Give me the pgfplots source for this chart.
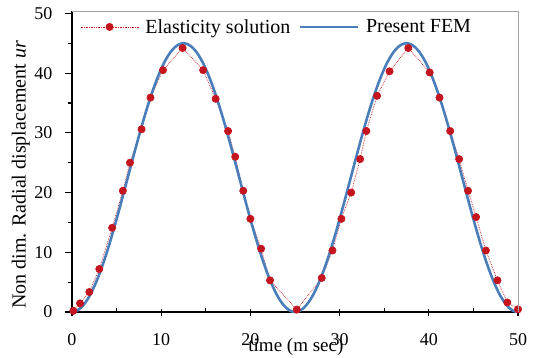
\documentclass[border=0pt]{standalone}
\usepackage{pgfplots}
\pgfplotsset{compat=1.18}
\usepackage{fontspec}
\setmainfont{Liberation Serif}
\definecolor{femblue}{RGB}{74,126,187}
\definecolor{elred}{RGB}{196,20,30}
\begin{document}
\begin{tikzpicture}
\begin{axis}[
  name=ax,
  scale only axis,
  width=446pt, height=301pt,
  xmin=0, xmax=50, ymin=0, ymax=50.4,
  xtick={0,10,...,50}, ytick={0,10,...,50},
  minor x tick num=1, minor y tick num=1,
  axis line style={line width=1.4pt, black},
  axis x line*=bottom, axis y line*=left,
  xtick align=center, ytick align=outside,
  major tick length=7pt, minor tick length=4pt,
  major y tick style={line width=1.2pt, black},
  minor y tick style={line width=1.2pt, black},
  major x tick style={line width=1.2pt, black},
  minor x tick style={line width=1.2pt, black, yshift=2pt},
  tick style={black},
  /pgf/number format/assume math mode=true,
  ticklabel style={font=\fontsize{18}{20}\selectfont},
  yticklabel style={xshift=-9pt},
  xticklabel style={yshift=-14pt},
  xlabel={time (m sec)},
  ylabel={Non dim. Radial displacement \textit{ur}},
  xlabel style={font=\fontsize{19}{21}\selectfont, at={(axis description cs:0.502,-0.132)}, anchor=base},
  ylabel style={font=\fontsize{20}{22}\selectfont, at={(axis description cs:-0.115,0.455)}, anchor=center, rotate=0},
  legend columns=2,
  legend style={draw=none, fill=none, inner sep=0pt, font=\fontsize{20}{22}\selectfont,
     at={(axis description cs:0.018,0.947)}, anchor=west,
     nodes={inner xsep=6.5pt},
     /tikz/every even column/.append style={column sep=2pt}},
  legend image code/.code={\draw[mark repeat=2,mark phase=2,#1] plot coordinates {(0pt,0pt) (29pt,0pt) (58pt,0pt)};},
  clip=false,
]
\addplot[elred, densely dotted, line width=0.7pt, mark=*, mark size=3.6pt, mark options={solid, fill=elred, draw=elred}]
coordinates {
(0.15,0.2) (0.9,1.45) (1.94,3.35) (3.06,7.2) (4.5,14.1) (5.7,20.3) (6.5,25.0) (7.8,30.6) (8.8,35.9) (10.2,40.5) (12.4,44.2)
(14.7,40.5) (16.1,35.7) (17.5,30.3) (18.3,26.0) (19.2,20.3) (20.0,15.6) (21.2,10.6) (22.2,5.3) (25.2,0.4)
(28.0,5.7) (29.2,10.3) (30.2,15.6) (31.3,20.0) (32.3,25.6) (33.0,30.3) (34.2,36.2) (35.6,40.3) (37.7,44.2)
(40.1,40.1) (41.2,35.9) (42.4,30.3) (43.4,25.6) (44.4,20.3) (45.3,15.9) (46.4,10.3) (47.7,5.3) (48.8,1.6) (50,0.45)
};
\addlegendentry{Elasticity solution}
\addplot[femblue, line width=2.6pt, smooth, no markers]
coordinates {
(0,0) (0.5,0.18) (1,0.71) (1.5,1.58) (2,2.78) (2.5,4.30) (3,6.10) (3.5,8.16) (4,10.44) (4.5,12.92) (5,15.55)
(5.5,18.28) (6,21.09) (6.5,23.91) (7,26.72) (7.5,29.45) (8,32.08) (8.5,34.56) (9,36.84) (9.5,38.90) (10,40.70)
(10.5,42.22) (11,43.42) (11.5,44.29) (12,44.82) (12.5,45.00) (13,44.82) (13.5,44.29) (14,43.42) (14.5,42.22)
(15,40.70) (15.5,38.90) (16,36.84) (16.5,34.56) (17,32.08) (17.5,29.45) (18,26.72) (18.5,23.91) (19,21.09)
(19.5,18.28) (20,15.55) (20.5,12.92) (21,10.44) (21.5,8.16) (22,6.10) (22.5,4.30) (23,2.78) (23.5,1.58)
(24,0.71) (24.5,0.18) (25,0)
(25.5,0.18) (26,0.71) (26.5,1.58) (27,2.78) (27.5,4.30) (28,6.10) (28.5,8.16) (29,10.44) (29.5,12.92) (30,15.55)
(30.5,18.28) (31,21.09) (31.5,23.91) (32,26.72) (32.5,29.45) (33,32.08) (33.5,34.56) (34,36.84) (34.5,38.90) (35,40.70)
(35.5,42.22) (36,43.42) (36.5,44.29) (37,44.82) (37.5,45.00) (38,44.82) (38.5,44.29) (39,43.42) (39.5,42.22)
(40,40.70) (40.5,38.90) (41,36.84) (41.5,34.56) (42,32.08) (42.5,29.45) (43,26.72) (43.5,23.91) (44,21.09)
(44.5,18.28) (45,15.55) (45.5,12.92) (46,10.44) (46.5,8.16) (47,6.10) (47.5,4.30) (48,2.78) (48.5,1.58)
(49,0.71) (49.5,0.18) (50,0)
};
\addlegendentry{Present FEM}
\end{axis}
\draw[gray!70, line width=0.6pt] (ax.north west) -- (ax.north east) -- (ax.south east);
\pgfresetboundingbox
\path ([xshift=-72pt,yshift=-45.3pt]ax.south west) rectangle ([xshift=16pt,yshift=11pt]ax.north east);
\end{tikzpicture}
\end{document}
